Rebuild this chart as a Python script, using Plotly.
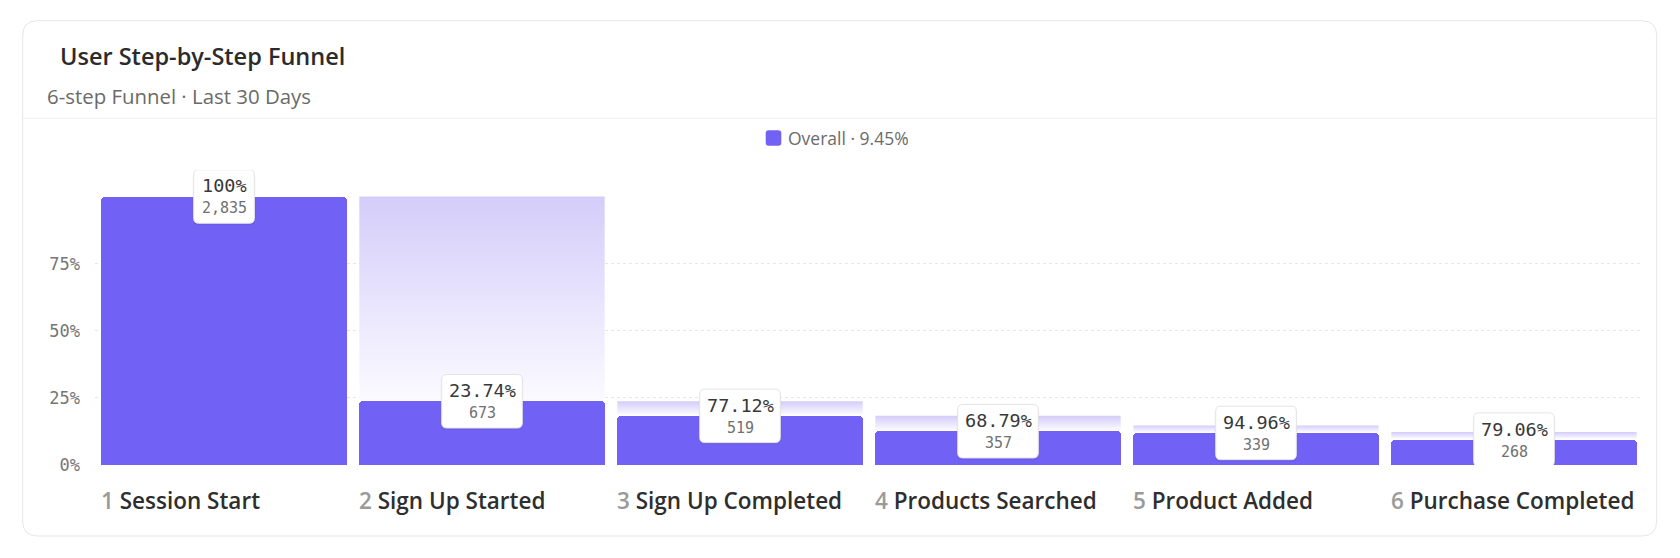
import plotly.graph_objects as go

# funnel data
steps = ["Session Start", "Sign Up Started", "Sign Up Completed",
         "Products Searched", "Product Added", "Purchase Completed"]
counts = [2835, 673, 519, 357, 339, 268]
y_ticks = [0, 0.25, 0.5, 0.75]
y_tick_labels = ["0%", "25%", "50%", "75%"]

title = "User Step-by-Step Funnel"
subtitle = "6-step Funnel · Last 30 Days"
series_name = "Overall"

# geometry: the page body has an 8px margin, so page px -> figure px
OFF = 8
W, H = 1680 - 2 * OFF, 558 - 2 * OFF
ML, MR, MT, MB = 87, 29, 162, 85
PW, PH = W - ML - MR, H - MT - MB
PX_PER_UNIT = 268.5   # height of 100% in px
BAR_W = 0.951
MIN_GHOST_PX = 7.5

PURPLE = "#7161F5"
GHOST_TOP = "#D4CDFA"
GHOST_BOTTOM = "#FBFAFF"
SANS = "Open Sans"
MONO = "DejaVu Sans Mono"

share = [c / counts[0] for c in counts]
step_rate = [1.0] + [counts[i] / counts[i - 1] for i in range(1, len(counts))]
overall = counts[-1] / counts[0]


def fmt_pct(v):
    s = f"{v * 100:.2f}"
    if s.endswith(".00"):
        s = s[:-3]
    return s + "%"


def rr_path(x0, y0, x1, y1, r):
    # rounded rect, pixel offsets, y up
    return (f"M{x0 + r},{y0} L{x1 - r},{y0} Q{x1},{y0} {x1},{y0 + r} "
            f"L{x1},{y1 - r} Q{x1},{y1} {x1 - r},{y1} L{x0 + r},{y1} "
            f"Q{x0},{y1} {x0},{y1 - r} L{x0},{y0 + r} Q{x0},{y0} {x0 + r},{y0} Z")


def ox(px):
    # page x -> offset from plot left
    return px - OFF - ML


def oy(py):
    # page y -> offset above plot bottom
    return (H - MB) - (py - OFF)


fig = go.Figure()

# ghost bars = previous step level, faded
for i in range(1, len(counts)):
    x0, x1 = i - BAR_W / 2, i + BAR_W / 2
    lo = share[i] + 1 / PX_PER_UNIT
    hi = max(share[i - 1], share[i] + MIN_GHOST_PX / PX_PER_UNIT)
    fig.add_trace(go.Scatter(
        x=[x0, x1, x1, x0, x0], y=[lo, lo, hi, hi, lo],
        mode="lines", fill="toself", line=dict(width=0, color=GHOST_TOP),
        fillgradient=dict(type="vertical",
                          colorscale=[[0, GHOST_BOTTOM], [1, GHOST_TOP]]),
        hoverinfo="skip", showlegend=False))

fig.add_trace(go.Bar(
    x=list(range(len(counts))), y=share, width=BAR_W,
    marker=dict(color=PURPLE, cornerradius=4, line=dict(width=0)),
    name=series_name, hoverinfo="skip", showlegend=False))

shapes = []
annotations = []

# card + header divider
shapes.append(dict(type="path", xref="paper", yref="paper", xsizemode="pixel", ysizemode="pixel",
                   xanchor=0, yanchor=0, layer="below",
                   path=rr_path(ox(22.7), oy(536), ox(1656.7), oy(20.7), 15),
                   line=dict(color="#E6E6E6", width=1), fillcolor="rgba(0,0,0,0)"))
shapes.append(dict(type="line", xref="paper", yref="paper", xsizemode="pixel", ysizemode="pixel",
                   xanchor=0, yanchor=0, layer="below",
                   x0=ox(23), x1=ox(1656), y0=oy(118.3), y1=oy(118.3),
                   line=dict(color="#EFEFEF", width=1)))


def note(text, px, py, size, color, family=SANS, weight=400):
    annotations.append(dict(text=text, xref="paper", yref="paper", x=0, y=0,
                            xshift=ox(px), yshift=oy(py), xanchor="left", yanchor="middle",
                            showarrow=False, borderpad=0, borderwidth=0,
                            font=dict(family=family, size=size, color=color, weight=weight)))


note(title, 60, 56, 23.5, "#2B2B2B", weight=600)
note(subtitle, 47, 96, 20.4, "#6A6A6A")

# legend
shapes.append(dict(type="path", xref="paper", yref="paper", xsizemode="pixel", ysizemode="pixel",
                   xanchor=0, yanchor=0,
                   path=rr_path(ox(765.7), oy(145.8), ox(781.3), oy(130.2), 3),
                   line=dict(width=0), fillcolor=PURPLE))
note(f"{series_name} · {fmt_pct(overall)}", 788, 138, 17.5, "#6B6B6B")

# step labels under bars
for i, name in enumerate(steps):
    annotations.append(dict(
        text=f"<span style='color:#9A9A9A'>{i + 1}</span> {name}",
        xref="x", yref="paper", x=i - BAR_W / 2, y=0, yshift=oy(500.7),
        xanchor="left", yanchor="middle", showarrow=False, borderpad=0, borderwidth=0,
        font=dict(family=SANS, size=22.5, color="#2E2E2E", weight=600)))

# value boxes
for i in range(len(counts)):
    pct_txt = fmt_pct(step_rate[i])
    cnt_txt = f"{counts[i]:,}"
    bw = max(len(pct_txt) * 10.85, len(cnt_txt) * 9.05) + 15.5
    bh = 53.5
    shapes.append(dict(type="path", xref="x", yref="y", xsizemode="pixel", ysizemode="pixel",
                       xanchor=i, yanchor=share[i], layer="above",
                       path=rr_path(-bw / 2 - 1, -bh / 2 - 2, bw / 2 + 1, bh / 2 - 1, 6),
                       line=dict(width=0), fillcolor="rgba(0,0,0,0.05)"))
    shapes.append(dict(type="path", xref="x", yref="y", xsizemode="pixel", ysizemode="pixel",
                       xanchor=i, yanchor=share[i], layer="above",
                       path=rr_path(-bw / 2, -bh / 2, bw / 2, bh / 2, 5),
                       line=dict(color="#E4E4E4", width=1), fillcolor="white"))
    annotations.append(dict(text=pct_txt, xref="x", yref="y", x=i, y=share[i], yshift=10.6,
                            xanchor="center", yanchor="middle", showarrow=False,
                            font=dict(family=MONO, size=18.5, color="#383838")))
    annotations.append(dict(text=cnt_txt, xref="x", yref="y", x=i, y=share[i], yshift=-11.9,
                            xanchor="center", yanchor="middle", showarrow=False,
                            font=dict(family=MONO, size=15, color="#707070")))

fig.update_layout(
    width=W, height=H,
    margin=dict(l=ML, r=MR, t=MT, b=MB, autoexpand=False),
    paper_bgcolor="white", plot_bgcolor="white",
    showlegend=False, bargap=0,
    shapes=shapes, annotations=annotations,
    xaxis=dict(range=[-0.5, len(counts) - 0.5], showticklabels=False, showgrid=False,
               zeroline=False, showline=False, fixedrange=True),
    yaxis=dict(range=[0, PH / PX_PER_UNIT], tickvals=y_ticks, ticktext=y_tick_labels,
               showgrid=True, gridcolor="#E6E6E6", griddash="dot", gridwidth=1,
               zeroline=False, showline=False, ticks="", ticklabelstandoff=14,
               tickfont=dict(family=MONO, size=17, color="#767676"), fixedrange=True),
)

fig.write_html("out.html")
